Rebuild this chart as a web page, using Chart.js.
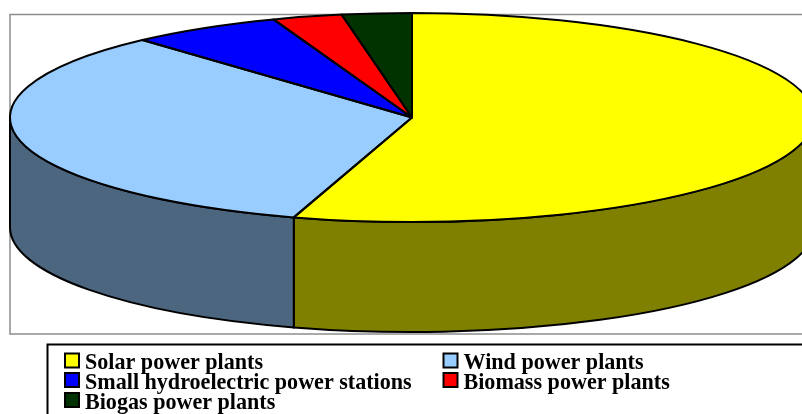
<!DOCTYPE html>
<html>
<head>
<meta charset="utf-8">
<title>Power plants</title>
<script src="https://cdn.jsdelivr.net/npm/chart.js@4"></script>
<style>
  html, body { margin: 0; padding: 0; background: #fff; overflow: hidden; }
  canvas { display: block; }
</style>
</head>
<body>
<canvas id="pieChart" width="802" height="414"></canvas>
<script>
// ===============================
// Data
// ===============================
const categories = ["Solar power plants", "Wind power plants", "Small hydroelectric power stations", "Biomass power plants", "Biogas power plants"];
const shares = [54.75, 33.55, 6.1, 2.8, 2.8];
const topColors = ["#ffff00", "#99ccff", "#0000ff", "#ff0000", "#003300"];
const wallColors = ["#808000", "#4d6680", "#000080", "#800000", "#001a00"];

// ===============================
// Fake 3D: the pie is stretched sideways, walls are drawn under it
// ===============================
const pieRadius = 104.5;
const stretchX = 402 / pieRadius;
const wallDepth = 110;

function stretch(ctx, el) {
    ctx.translate(el.x, el.y);
    ctx.scale(stretchX, 1);
    ctx.translate(-el.x, -el.y);
}

const pie3d = {
    id: "pie3d",
    beforeDraw(chart) {
        const ctx = chart.ctx;
        ctx.save();
        ctx.fillStyle = "#fff";
        ctx.fillRect(0, 0, chart.width, chart.height);
        // plot border runs off the right side
        ctx.strokeStyle = "#8c8c8c";
        ctx.lineWidth = 1.5;
        ctx.strokeRect(10, 14.5, 820, 319.5);
        ctx.restore();
    },
    beforeDatasetsDraw(chart) {
        const ctx = chart.ctx;
        const arcs = chart.getDatasetMeta(0).data;
        // only the front half (0..PI on the canvas) shows a wall
        ctx.save();
        ctx.lineWidth = 2;
        ctx.strokeStyle = "#000";
        arcs.forEach((el, i) => {
            const from = Math.max(el.startAngle, 0);
            const to = Math.min(el.endAngle, Math.PI);
            if (to <= from) return;
            const rx = el.outerRadius * stretchX;
            const ry = el.outerRadius;
            ctx.beginPath();
            ctx.ellipse(el.x, el.y, rx, ry, 0, from, to);
            ctx.ellipse(el.x, el.y + wallDepth, rx, ry, 0, to, from, true);
            ctx.closePath();
            ctx.fillStyle = wallColors[i];
            ctx.fill();
            ctx.stroke();
        });
        ctx.restore();
        // stays on until afterDatasetsDraw
        ctx.save();
        stretch(ctx, arcs[0]);
    },
    afterDatasetsDraw(chart) {
        const ctx = chart.ctx;
        ctx.restore();
        // outlines go here so the stretch does not thicken them
        chart.getDatasetMeta(0).data.forEach(el => {
            ctx.save();
            ctx.beginPath();
            ctx.save();
            stretch(ctx, el);
            ctx.moveTo(el.x, el.y);
            ctx.arc(el.x, el.y, el.outerRadius, el.startAngle, el.endAngle);
            ctx.closePath();
            ctx.restore();
            ctx.lineWidth = 2;
            ctx.strokeStyle = "#000";
            ctx.lineJoin = "round";
            ctx.stroke();
            ctx.restore();
        });
    },
    afterDraw(chart) {
        // legend box, also runs off the page
        const ctx = chart.ctx;
        const colX = [65, 443.5];
        const rowY = [353.5, 373, 393];
        ctx.save();
        ctx.strokeStyle = "#000";
        ctx.lineWidth = 2;
        ctx.strokeRect(47.5, 344.5, 800, 100);
        ctx.font = "bold 22.1px 'Liberation Serif'";
        ctx.textBaseline = "alphabetic";
        categories.forEach((name, i) => {
            const x = colX[i % 2];
            const y = rowY[Math.floor(i / 2)];
            ctx.fillStyle = topColors[i];
            ctx.fillRect(x, y, 14, 14);
            ctx.lineWidth = 2;
            ctx.strokeRect(x, y, 14, 14);
            ctx.fillStyle = "#000";
            ctx.fillText(name, x + 20, y + 15.5);
        });
        ctx.restore();
    }
};

// ===============================
// Chart
// ===============================
const ctxPie = document.getElementById("pieChart").getContext("2d");
const pieChart = new Chart(ctxPie, {
    type: "pie",
    data: {
        labels: categories,
        datasets: [{
            data: shares,
            backgroundColor: topColors,
            borderWidth: 0,
            clip: false
        }]
    },
    options: {
        responsive: false,
        animation: false,
        events: [],
        radius: pieRadius,
        layout: { padding: { left: 22, top: 0, right: 0, bottom: 179 } },
        plugins: {
            legend: { display: false },
            tooltip: { enabled: false }
        }
    },
    plugins: [pie3d]
});
</script>
</body>
</html>
